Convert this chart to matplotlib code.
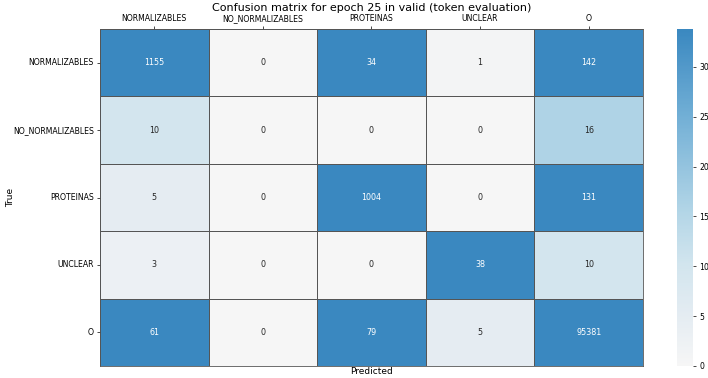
import matplotlib
matplotlib.use('Agg')
import matplotlib.pyplot as plt
import numpy as np
import seaborn as sns
from matplotlib.colors import LinearSegmentedColormap

labels = ['NORMALIZABLES', 'NO_NORMALIZABLES', 'PROTEINAS', 'UNCLEAR', 'O']

row_normalizables = [1155, 0, 34, 1, 142]
row_no_normalizables = [10, 0, 0, 0, 16]
row_proteinas = [5, 0, 1004, 0, 131]
row_unclear = [3, 0, 0, 38, 10]
row_o = [61, 0, 79, 5, 95381]

cm = np.array([row_normalizables, row_no_normalizables, row_proteinas,
               row_unclear, row_o])

# light grey -> blue
cmap = LinearSegmentedColormap.from_list(
    'blu', [(0, '#f6f6f6'), (0.15, '#e4ecf2'), (0.3, '#d2e5ee'),
            (0.47, '#b0d4e6'), (0.75, '#70aed5'), (1, '#3a88c0')])

fig = plt.figure(figsize=[7.08, 3.78], dpi=100)
ax = fig.add_axes([0.1412, 0.032, 0.767, 0.891])
cax = fig.add_axes([0.956, 0.032, 0.0226, 0.891])

sns.heatmap(cm, annot=True, fmt='d', cmap=cmap, vmin=0, vmax=33.8,
            linewidths=0.6, linecolor='#555555',
            xticklabels=labels, yticklabels=labels,
            annot_kws={'fontsize': 5.8}, ax=ax, cbar_ax=cax)

ax.xaxis.tick_top()
ax.tick_params(axis='both', labelsize=5.6, length=2.5, width=0.5, pad=2)
plt.setp(ax.get_yticklabels(), rotation=0)
plt.setp(ax.get_xticklabels(), rotation=0)
for s in ax.spines.values():
    s.set_visible(True)
    s.set_linewidth(0.6)
    s.set_color('#555555')

ax.set_title('Confusion matrix for epoch 25 in valid (token evaluation)', fontsize=8, pad=2)
ax.set_xlabel('Predicted', fontsize=6.5, labelpad=1)
ax.set_ylabel('True', fontsize=6.5)
ax.yaxis.set_label_coords(-0.156, 0.5)
ax.xaxis.set_label_position('bottom')

cax.tick_params(labelsize=5.6, length=2.5, width=0.5, pad=2)
cax.set_yticks([0, 5, 10, 15, 20, 25, 30])

plt.savefig('out.png')
